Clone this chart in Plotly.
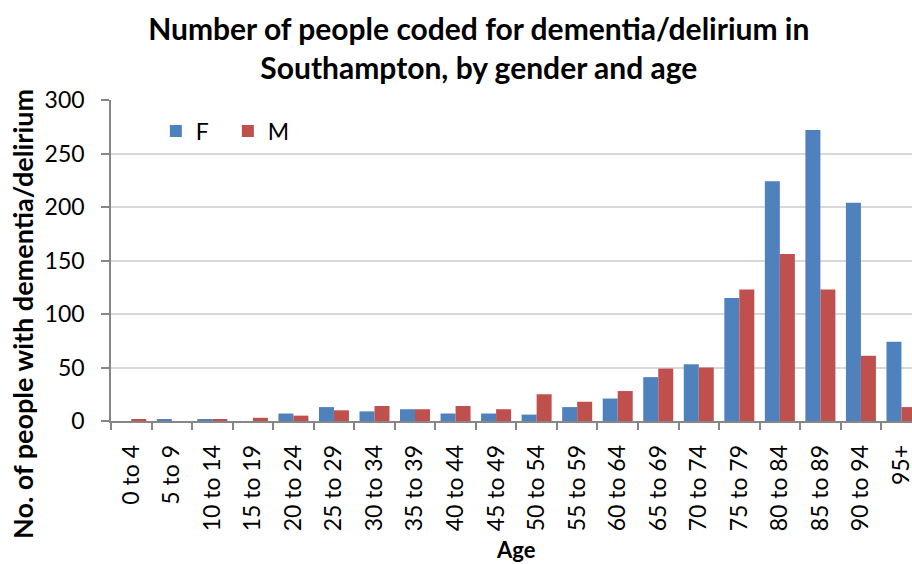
import plotly.graph_objects as go

ages = ["0 to 4", "5 to 9", "10 to 14", "15 to 19", "20 to 24", "25 to 29", "30 to 34",
        "35 to 39", "40 to 44", "45 to 49", "50 to 54", "55 to 59", "60 to 64", "65 to 69",
        "70 to 74", "75 to 79", "80 to 84", "85 to 89", "90 to 94", "95+"]
female = [0, 1, 1, 0, 7, 13, 9, 11, 7, 7, 6, 13, 21, 41, 53, 115, 224, 272, 204, 74]
male = [1, 0, 1, 3, 5, 10, 14, 11, 14, 11, 25, 18, 28, 49, 50, 123, 156, 123, 61, 13]

FONT = "Lato"
L, T, B, H = 111, 100, 143, 564
PW = 912 - L
PH = H - T - B

fig = go.Figure()
fig.add_trace(go.Bar(name="F", x=ages, y=female, marker=dict(color="#4F81BD", line=dict(width=0))))
fig.add_trace(go.Bar(name="M", x=ages, y=male, marker=dict(color="#C0504D", line=dict(width=0))))

fig.update_layout(
    width=912, height=H,
    margin=dict(l=L, r=0, t=T, b=B, autoexpand=False),
    paper_bgcolor="white", plot_bgcolor="white",
    barmode="group", bargap=0.26, bargroupgap=0,
    font=dict(family=FONT, size=22, color="black"),
    title=dict(text="<b>Number of people coded for dementia/delirium in<br>Southampton, by gender and age</b>",
               x=0.525, xanchor="center", y=0.929, yanchor="middle",
               font=dict(family=FONT, size=30, color="black")),
    legend=dict(orientation="h", x=0.056, y=0.903, xanchor="left", yanchor="middle",
                font=dict(size=23), bgcolor="rgba(0,0,0,0)", itemwidth=30,
                entrywidth=27),
    xaxis=dict(
        type="category", range=[-0.5, 19.26],
        showline=True, linecolor="#868686", linewidth=1.5,
        ticks="outside", tickson="boundaries", ticklen=7, tickcolor="#868686", tickwidth=1.5,
        tickangle=-90, tickfont=dict(size=23), ticklabelstandoff=13,
        showgrid=False, automargin=False,
    ),
    yaxis=dict(
        range=[0, 300], dtick=50,
        showline=True, linecolor="#868686", linewidth=1.5,
        ticks="outside", ticklen=8, tickcolor="#868686", tickwidth=1.5,
        showgrid=True, gridcolor="#D9D9D9", gridwidth=1.5,
        tickfont=dict(size=23), ticklabelstandoff=12,
        zeroline=False, automargin=False,
    ),
    annotations=[
        dict(text="<b>No. of people with dementia/delirium</b>", textangle=-90,
             xref="paper", yref="paper", x=(22 - L) / PW, y=(H - B - 314) / PH,
             xanchor="center", yanchor="middle", showarrow=False,
             font=dict(family=FONT, size=27, color="black")),
        dict(text="<b>Age</b>",
             xref="paper", yref="paper", x=(516 - L) / PW, y=(H - B - 549) / PH,
             xanchor="center", yanchor="middle", showarrow=False,
             font=dict(family=FONT, size=22, color="black")),
    ],
)

fig.write_html("out.html", config={"displayModeBar": False},
               post_script="document.body.style.margin='0';document.body.style.overflow='hidden';")
